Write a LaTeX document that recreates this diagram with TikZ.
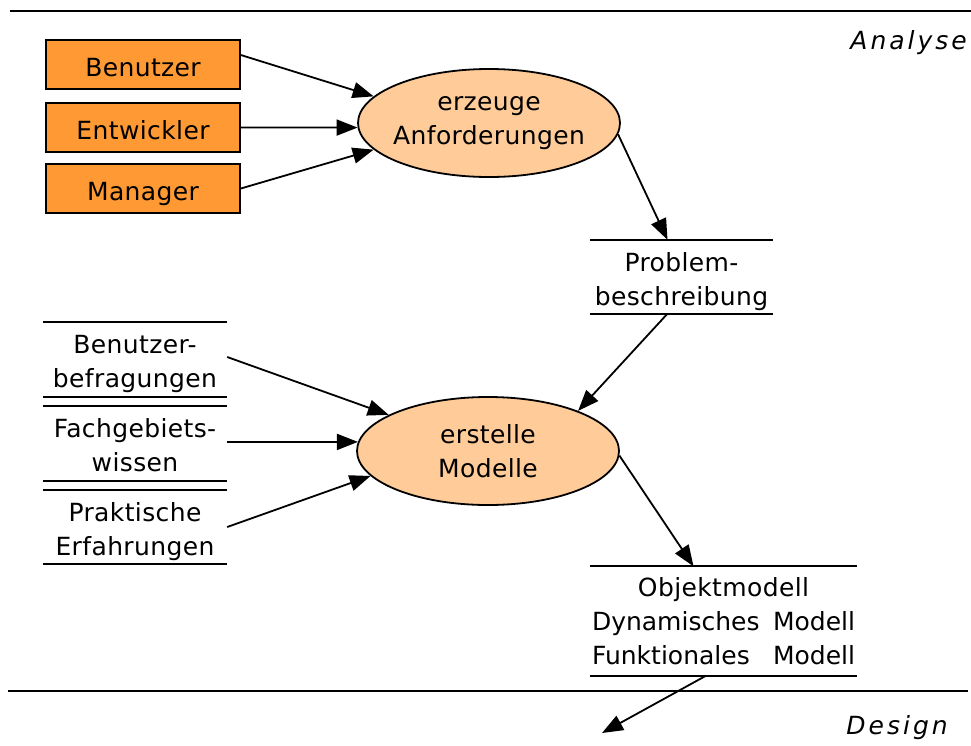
\documentclass[tikz,border=0pt]{standalone}
\usepackage{fontspec}
\setmainfont{DejaVu Sans}[LetterSpace=1.5]
\newfontfamily\phasefont{DejaVu Sans}[LetterSpace=12]
\newfontfamily\tightfont{DejaVu Sans}
\usetikzlibrary{shapes.geometric,arrows.meta}
\definecolor{actorfill}{HTML}{FF9933}
\definecolor{procfill}{HTML}{FFCC99}
\begin{document}
\begin{tikzpicture}[x=1pt,y=-1pt,
  every node/.style={font=\fontsize{25}{34}\selectfont, inner sep=0pt},
  rule/.style={line width=1.8pt},
  actor/.style={draw, line width=1.6pt, fill=actorfill,
    minimum width=194pt, minimum height=49pt, text height=24pt, text depth=0pt},
  proc/.style={ellipse, draw, line width=1.8pt, fill=procfill, inner xsep=-15pt,
    minimum width=262pt, minimum height=108pt, align=center},
  store/.style={align=center},
  twoline/.style={text height=62pt, text depth=6pt},
  flow/.style={line width=1.8pt, -{Triangle[length=21pt,width=16pt]}},
  phase/.style={font=\fontsize{25}{30}\phasefont\itshape, anchor=east}
]
\useasboundingbox (0,0) rectangle (971,745);

% phase boundaries
\draw[rule] (10,11) -- (971,11);
\draw[rule] (8,691) -- (968,691);
\node[phase] (analyse) at (967,43) {Analyse};
\node[phase] (design) at (948,728) {Design};

% actors
\node[actor] (ben) at (143,64.5) {Benutzer};
\node[actor] (ent) at (143,127.5) {Entwickler};
\node[actor] (man) at (143,188.5) {Manager};

% processes
\node[proc] (erz) at (489,123) {erzeuge\\Anforderungen};
\node[proc] (ers) at (488,451) {erstelle\\Modelle};

% data stores
\node[store, twoline, minimum width=183pt, minimum height=74pt] (pb)
  at (681.5,277) {Problem-\\beschreibung};
\node[store, twoline, minimum width=184pt, minimum height=75pt] (bf)
  at (135,359.5) {Benutzer-\\befragungen};
\node[store, twoline, minimum width=184pt, minimum height=75pt] (fw)
  at (135,443.5) {Fachgebiets-\\wissen};
\node[store, twoline, minimum width=184pt, minimum height=74pt] (pe)
  at (135,527) {Praktische\\Erfahrungen};
\node[store, text width=263pt, minimum width=267pt, minimum height=109pt] (om)
  at (723.5,621)
  {Objektmodell\\{\tightfont Dynamisches\hfill Modell}\\
   {\tightfont Funktionales\hfill Modell}};
\foreach \s in {pb,bf,fw,pe}
  \draw[rule] (\s.north west) -- (\s.north east)
              (\s.south west) -- (\s.south east);
\draw[rule] ([yshift=0.5pt]om.north west) -- ([yshift=0.5pt]om.north east)
            ([yshift=-0.5pt]om.south west) -- ([yshift=-0.5pt]om.south east);

% data flows
\draw[flow] ([yshift=9.5pt]ben.east) -- (erz.167);
\draw[flow] (ent.east) -- (erz.182);
\draw[flow] (man.east) -- (erz.193);
\draw[flow] (erz.355) -- ([xshift=-14pt]pb.north);
\draw[flow] ([xshift=-14.5pt]pb.south) -- (ers.24);
\draw[flow] ([yshift=2.5pt]bf.east) -- (ers.160);
\draw[flow] ([yshift=1.5pt]fw.east) -- (ers.176);
\draw[flow] (pe.east) -- (ers.192);
\draw[flow] (ers.358) -- ([xshift=-30pt]om.north);
\coordinate (next) at (602,733);
\draw[flow] ([xshift=-17.5pt]om.south) -- (next);
\end{tikzpicture}
\end{document}
